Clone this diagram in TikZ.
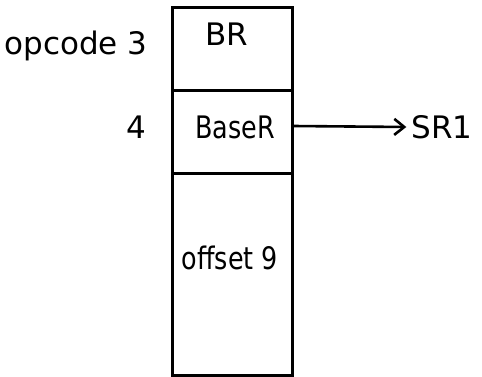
\documentclass[tikz,border=0pt]{standalone}
\usepackage{fontspec}
\setmainfont{DejaVu Sans}
\usetikzlibrary{arrows.meta}
\begin{document}
\begin{tikzpicture}[x=1pt,y=-1pt,
  box/.style={draw, line width=3pt},
  lbl/.style={font=\fontsize{31}{36}\selectfont, inner sep=0pt},
  narrow/.style={lbl, xscale=0.82},
  wire/.style={line width=2.6pt, -{Straight Barb[length=10pt,width=16pt,line width=2.6pt]}}]
\useasboundingbox (0,0) rectangle (482,377);
\draw[box] (172,8) rectangle (292,375);
\draw[box] (172,91) -- (292,91);
\draw[box] (172,174) -- (292,174);
\coordinate (r) at (293,126);
\node[lbl] (br) at (227,34) {BR};
\node[lbl] (op) at (76,46) {opcode 3};
\node[lbl] (four) at (136,127) {4};
\node[narrow] (base) at (235,127) {BaseR};
\node[lbl] (sr) at (442,127) {SR1};
\node[narrow] (off) at (230,258) {offset 9};
\draw[wire] (r) -- ([xshift=-5pt]sr.west);
\end{tikzpicture}
\end{document}
